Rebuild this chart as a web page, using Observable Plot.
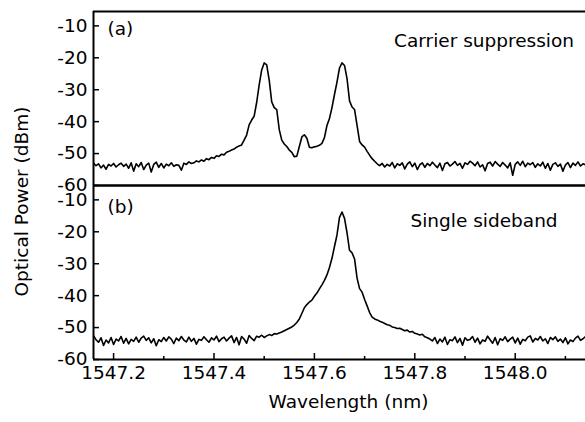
<!DOCTYPE html>
<html>
<head>
<meta charset="utf-8">
<script src="https://cdn.jsdelivr.net/npm/d3@7"></script>
<script src="https://cdn.jsdelivr.net/npm/@observablehq/plot@0.6"></script>
<style>
  html, body { margin: 0; padding: 0; background: #fff; }
  #chart { width: 585px; height: 422px; }
</style>
</head>
<body>
<div id="chart"></div>
<script>
// ---- data ----
const panels = ["a", "b"];
const panelLabels = ["(a)", "(b)"];
const panelTitles = ["Carrier suppression", "Single sideband"];
const xLabel = "Wavelength (nm)";
const yLabel = "Optical Power (dBm)";

// sampling grid of the spectrum analyser (nm)
const wavelengthStart = 1547.16;
const wavelengthStep = 0.005;

// (a) carrier suppression, dBm, one value per grid step (rows of 10)
const powerA = [
  -53.0, -53.8, -53.2, -54.5, -53.6, -54.9, -53.4, -53.9, -53.1, -54.2, // 1547.160
  -53.5, -53.0, -54.0, -53.3, -54.6, -52.9, -55.5, -53.2, -54.1, -52.8, // 1547.210
  -55.0, -53.6, -53.0, -55.8, -53.4, -52.7, -54.3, -53.1, -54.5, -53.3, // 1547.260
  -53.8, -52.9, -54.0, -53.5, -53.7, -55.2, -53.0, -53.4, -52.6, -53.1, // 1547.310
  -52.9, -52.3, -52.6, -52.0, -52.4, -51.6, -51.9, -51.2, -51.5, -50.7, // 1547.360
  -50.9, -50.2, -50.4, -49.6, -49.3, -48.9, -48.6, -48.0, -47.6, -47.3, // 1547.410
  -45.8, -44.2, -41.0, -39.5, -38.3, -34.0, -28.5, -23.8, -21.6, -22.2, // 1547.460
  -27.0, -33.8, -35.6, -36.2, -42.5, -45.8, -47.0, -47.8, -48.9, -49.6, // 1547.510
  -51.0, -50.8, -47.8, -44.8, -44.1, -45.2, -48.0, -48.2, -47.9, -47.7, // 1547.560
  -47.4, -46.8, -45.0, -41.2, -39.0, -35.6, -31.5, -27.6, -23.2, -21.6, // 1547.610
  -22.4, -26.5, -33.5, -35.4, -36.2, -41.2, -46.2, -47.3, -48.0, -49.3, // 1547.660
  -50.5, -51.6, -52.4, -53.2, -53.8, -53.1, -54.2, -53.4, -53.9, -52.8, // 1547.710
  -54.5, -53.2, -53.7, -52.9, -54.8, -53.3, -52.6, -54.1, -53.0, -55.0, // 1547.760
  -53.5, -52.9, -54.3, -53.1, -53.8, -52.7, -53.6, -54.4, -53.0, -55.3, // 1547.810
  -53.2, -52.8, -53.9, -53.3, -52.5, -53.7, -53.1, -54.6, -52.9, -53.4, // 1547.860
  -52.4, -53.0, -53.8, -52.6, -54.2, -53.5, -55.4, -53.1, -52.7, -53.9, // 1547.910
  -52.5, -53.3, -54.0, -52.8, -53.6, -54.5, -52.9, -56.8, -53.4, -52.6, // 1547.960
  -53.7, -52.4, -54.1, -53.0, -53.5, -52.8, -54.3, -53.2, -53.9, -52.7, // 1548.010
  -54.6, -53.1, -55.2, -53.4, -52.9, -54.0, -53.3, -55.5, -53.6, -52.8, // 1548.060
  -54.4, -53.0, -53.7, -52.6, -53.9, -53.2, -53.5                       // 1548.110
];

// (b) single sideband, dBm
const powerB = [
  -52.5, -53.8, -54.6, -53.2, -55.6, -53.9, -54.8, -53.1, -55.3, -53.6, // 1547.160
  -54.2, -52.8, -54.9, -53.4, -55.1, -53.7, -54.3, -53.0, -54.6, -53.3, // 1547.210
  -52.7, -54.0, -53.2, -54.8, -53.5, -55.7, -53.8, -54.4, -53.1, -54.2, // 1547.260
  -52.9, -53.6, -55.0, -53.3, -54.1, -52.8, -53.9, -54.5, -53.0, -54.3, // 1547.310
  -53.4, -55.2, -53.7, -54.0, -52.9, -53.8, -54.6, -53.2, -53.9, -52.7, // 1547.360
  -54.4, -53.5, -53.0, -54.2, -53.3, -52.6, -54.7, -53.1, -55.4, -52.8, // 1547.410
  -53.6, -54.9, -52.5, -53.4, -54.1, -52.7, -53.0, -52.4, -53.1, -52.6, // 1547.460
  -52.2, -52.5, -51.9, -52.0, -51.7, -51.4, -51.0, -50.6, -50.2, -49.8, // 1547.510
  -49.2, -48.4, -47.3, -45.6, -43.8, -42.8, -42.0, -41.4, -40.2, -39.2, // 1547.560
  -37.9, -36.6, -35.2, -33.5, -31.2, -28.3, -24.6, -21.0, -15.5, -13.8, // 1547.610
  -15.8, -20.3, -25.8, -26.6, -28.5, -34.5, -37.8, -38.9, -41.2, -43.2, // 1547.660
  -45.3, -46.7, -47.3, -47.6, -48.0, -48.3, -48.7, -49.1, -49.3, -49.8, // 1547.710
  -50.0, -50.3, -50.2, -50.6, -51.0, -50.8, -51.4, -51.2, -51.8, -52.0, // 1547.760
  -52.3, -52.1, -52.9, -53.2, -53.6, -54.2, -53.1, -55.0, -53.6, -54.5, // 1547.810
  -53.0, -55.3, -53.8, -54.1, -52.9, -54.7, -53.4, -55.5, -53.2, -54.0, // 1547.860
  -53.7, -52.8, -54.6, -53.3, -55.1, -53.9, -54.3, -52.7, -53.8, -54.9, // 1547.910
  -53.1, -55.4, -53.5, -54.0, -52.9, -54.4, -53.6, -53.0, -54.8, -53.3, // 1547.960
  -55.2, -53.7, -54.1, -53.0, -52.6, -54.5, -53.4, -53.9, -52.8, -54.2, // 1548.010
  -53.5, -55.0, -53.1, -53.8, -52.9, -54.3, -53.6, -54.7, -53.2, -55.1, // 1548.060
  -53.9, -54.4, -53.3, -52.7, -54.0, -53.5, -52.8                       // 1548.110
];

const xDomain = [1547.16, 1548.14];
const yDomain = [-60, -5.5];
const xTicksMajor = [1547.2, 1547.4, 1547.6, 1547.8, 1548.0];
const xTicksMinor = [1547.3, 1547.5, 1547.7, 1547.9, 1548.1];
const yTicks = [-10, -20, -30, -40, -50, -60];

// ---- tables built from the arrays ----
const rows = [];
[powerA, powerB].forEach((arr, k) => {
  arr.forEach((p, i) => rows.push({panel: panels[k], wl: wavelengthStart + i * wavelengthStep, p}));
});
const labelRows = panels.map((panel, i) => ({panel, label: panelLabels[i], title: panelTitles[i]}));
const rowA = labelRows.filter(d => d.panel === "a");
const rowB = labelRows.filter(d => d.panel === "b");

const chart = Plot.plot({
  width: 585,
  height: 422,
  marginTop: 10,
  marginBottom: 63,
  marginLeft: 93,
  marginRight: 0,
  style: {
    fontFamily: "'DejaVu Sans', sans-serif",
    fontSize: "18.5px",
    background: "white",
    color: "black",
    overflow: "visible"
  },
  x: {domain: xDomain},
  y: {domain: yDomain},
  fy: {domain: panels, padding: 0, axis: null, label: null},
  marks: [
    Plot.line(rows, {x: "wl", y: "p", fy: "panel", stroke: "black", strokeWidth: 1.6, clip: true}),
    Plot.ruleY(yDomain, {stroke: "black", strokeWidth: 2}),
    Plot.ruleX([xDomain[0]], {stroke: "black", strokeWidth: 2}),
    Plot.axisY({ticks: yTicks, tickSize: -6, tickPadding: 12, tickFormat: d => String(d), strokeWidth: 1.5, label: null}),
    Plot.axisX({ticks: xTicksMajor, tickSize: -6, tickPadding: 12, tickFormat: d3.format(".1f"), strokeWidth: 1.5, label: null}),
    Plot.axisX({ticks: xTicksMinor, tickSize: -3, tickPadding: 12, tickFormat: () => "", strokeWidth: 1.5, label: null}),
    // panel tags
    Plot.text(rowA, {fy: "panel", text: "label", frameAnchor: "top-left", textAnchor: "start", lineAnchor: "middle", dx: 14, dy: 17.5}),
    Plot.text(rowB, {fy: "panel", text: "label", frameAnchor: "top-left", textAnchor: "start", lineAnchor: "middle", dx: 14, dy: 21.5}),
    // panel titles
    Plot.text(rowA, {fy: "panel", text: "title", frameAnchor: "top-right", textAnchor: "middle", lineAnchor: "middle", dx: -101.5, dy: 30}),
    Plot.text(rowB, {fy: "panel", text: "title", frameAnchor: "top-right", textAnchor: "middle", lineAnchor: "middle", dx: -101.5, dy: 36}),
    // axis titles
    Plot.text(rowA, {fy: "panel", text: () => yLabel, frameAnchor: "left", rotate: -90, textAnchor: "middle", lineAnchor: "middle", dx: -71, dy: 103}),
    Plot.text(rowB, {fy: "panel", text: () => xLabel, frameAnchor: "bottom", textAnchor: "middle", lineAnchor: "middle", dx: 9, dy: 43})
  ]
});

document.getElementById("chart").appendChild(chart);
</script>
</body>
</html>
